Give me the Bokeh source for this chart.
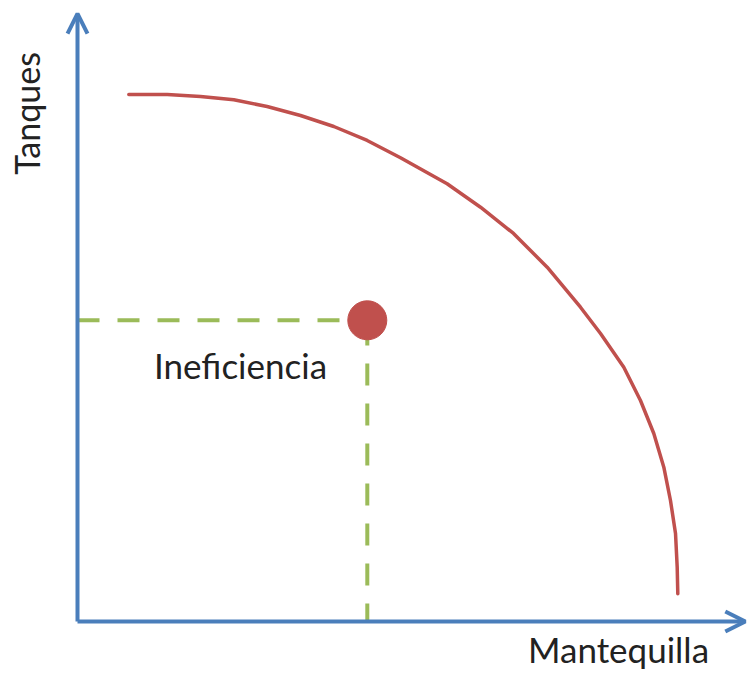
from bokeh.plotting import figure
from bokeh.models import Range1d, Arrow, OpenHead, Label
from bokeh.embed import file_html
from bokeh.resources import INLINE

# Production possibility frontier (Mantequilla vs Tanques)
curve_x = [8.55, 14.95, 20.5, 26.05, 31.6, 37.17, 42.72, 48.28, 53.83, 61.6, 67.17,
           72.67, 78.28, 83.83, 87.17, 91.05, 93.83, 96.05, 97.72, 98.83, 99.67,
           99.95, 100.05]
curve_y = [87.83, 87.83, 87.5, 86.95, 85.83, 84.33, 82.5, 80.17, 77.28, 72.95, 69.05,
           64.67, 59.05, 52.38, 48.0, 42.38, 36.83, 31.33, 25.72, 20.17, 14.67,
           9.05, 4.62]

# Inefficient point
point_x = [48.3]
point_y = [50.2]

axis_x_end = 111.3
axis_y_end = 101.3

x_label = "Mantequilla"
y_label = "Tanques"
point_label = "Ineficiencia"

BLUE = "#4a7ebb"
RED = "#c0504d"
GREEN = "#9bbb59"
FONT = "Lato"
TXT = "#222222"

W, H = 748, 676
x0 = -77 / 6.0
y1 = 621 / 6.0
p = figure(width=W, height=H, output_backend="svg", toolbar_location=None,
           x_range=Range1d(x0, x0 + W / 6.0),
           y_range=Range1d(y1 - H / 6.0, y1),
           min_border=0, min_border_left=0, min_border_right=0,
           min_border_top=0, min_border_bottom=0)
p.axis.visible = False
p.grid.visible = False
p.outline_line_color = None
p.background_fill_color = "white"
p.border_fill_color = "white"

# dashed guides
p.line([0, point_x[0]], [point_y[0], point_y[0]], line_color=GREEN, line_width=4,
       line_dash="22 18")
p.line([point_x[0], point_x[0]], [0, point_y[0]], line_color=GREEN, line_width=4,
       line_dash="22 18", line_dash_offset=4)

# axes with arrows
p.add_layout(Arrow(x_start=0, y_start=0, x_end=0, y_end=axis_y_end,
                   line_color=BLUE, line_width=4,
                   end=OpenHead(size=20, line_color=BLUE, line_width=4)))
p.add_layout(Arrow(x_start=0, y_start=0, x_end=axis_x_end, y_end=0,
                   line_color=BLUE, line_width=4,
                   end=OpenHead(size=20, line_color=BLUE, line_width=4)))

# frontier curve
p.line(curve_x, curve_y, line_color=RED, line_width=3.5, line_cap="round",
       line_join="round")

# inefficient point
p.scatter(point_x, point_y, size=39, fill_color=RED, line_color=RED)

p.add_layout(Label(x=27.17, y=42.8, text=point_label,
                   text_font=FONT, text_font_size="35px", text_color=TXT,
                   text_align="center", text_baseline="middle"))
p.add_layout(Label(x=90.17, y=-4.6, text=x_label,
                   text_font=FONT, text_font_size="35px", text_color=TXT,
                   text_align="center", text_baseline="middle"))
p.add_layout(Label(x=-8.5, y=84.67, text=y_label, angle=1.5708,
                   text_font=FONT, text_font_size="34px", text_color=TXT,
                   text_align="center", text_baseline="alphabetic"))

open("out.html", "w").write(file_html(p, INLINE))
